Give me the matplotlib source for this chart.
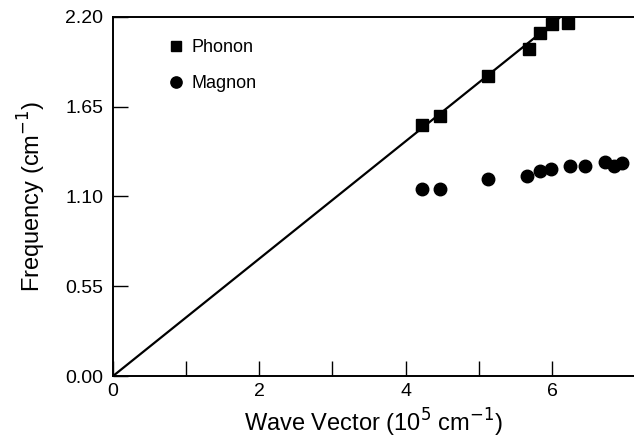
#!/usr/bin/env python3

import matplotlib.pyplot as plt
from matplotlib.ticker import FixedLocator, FormatStrFormatter

plt.rcParams["font.family"] = ["Liberation Sans", "DejaVu Sans"]

# phonon points (squares)
phonon_k = [4.23, 4.47, 5.13, 5.68, 5.83, 6.00, 6.22]
phonon_f = [1.538, 1.593, 1.838, 2.002, 2.100, 2.155, 2.160]

# magnon points (circles)
magnon_k = [4.22, 4.47, 5.13, 5.66, 5.83, 5.98, 6.25, 6.45, 6.73, 6.85, 6.95]
magnon_f = [1.144, 1.144, 1.205, 1.225, 1.258, 1.268, 1.287, 1.287, 1.311, 1.287, 1.307]

# linear phonon dispersion
fit_k = [0.0, 6.12]
fit_f = [0.0, 2.20]

x_major = [0, 2, 4, 6]
x_minor = [1, 3, 5]
y_ticks = [0.0, 0.55, 1.10, 1.65, 2.20]


def main():
    fig = plt.figure(figsize=(6.34, 4.41), dpi=100)
    ax = fig.add_axes([0.178, 0.147, 0.822, 0.815])

    ax.plot(fit_k, fit_f, color="black", linewidth=1.6)
    ax.plot(phonon_k, phonon_f, "s", color="black", markersize=8.5, label="Phonon")
    ax.plot(magnon_k, magnon_f, "o", color="black", markersize=9, label="Magnon")

    ax.set_xlim(0, 7.12)
    ax.set_ylim(0, 2.20)

    ax.xaxis.set_major_locator(FixedLocator(x_major))
    ax.xaxis.set_minor_locator(FixedLocator(x_minor))
    ax.yaxis.set_major_locator(FixedLocator(y_ticks))
    ax.yaxis.set_major_formatter(FormatStrFormatter("%.2f"))

    ax.tick_params(which="both", direction="in", length=11, width=1.0,
                   labelsize=14, top=False, right=False)
    ax.tick_params(axis="x", pad=5)
    ax.tick_params(axis="y", pad=7)

    ax.spines["right"].set_visible(False)
    for side in ("left", "bottom", "top"):
        ax.spines[side].set_linewidth(1.4)

    ax.set_xlabel(r"Wave Vector (10$^5$ cm$^{-1}$)", fontsize=17, labelpad=5)
    ax.set_ylabel(r"Frequency (cm$^{-1}$)", fontsize=17, labelpad=12)

    ax.legend(loc="upper left", frameon=False, fontsize=13, handletextpad=0.35,
              labelspacing=1.05, borderpad=0.0, borderaxespad=0.0,
              bbox_to_anchor=(0.104, 0.938), handlelength=1.0, markerscale=0.9)

    fig.savefig("out.png", dpi=100)
    plt.close(fig)


if __name__ == "__main__":
    main()
